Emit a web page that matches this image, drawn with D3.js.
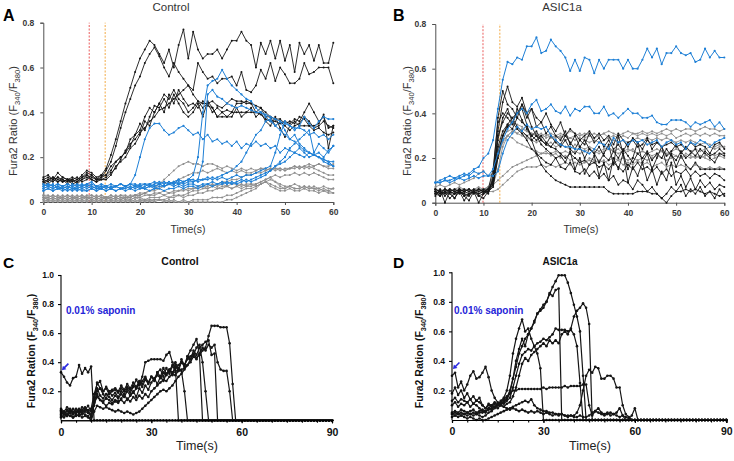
<!DOCTYPE html>
<html><head><meta charset="utf-8">
<script src="https://cdn.jsdelivr.net/npm/d3@7"></script>
<style>body{margin:0;background:#fff}svg{display:block}text{font-family:"Liberation Sans",Arial,sans-serif}</style>
</head><body><svg id="c" width="734" height="461"></svg>
<script>
// ---------- shared axes/ticks ----------
const timeAB = d3.range(0, 61);   // seconds, panels A and B
const timeCD = d3.range(0, 91);   // seconds, panels C and D
const xTicksAB = [0, 10, 20, 30, 40, 50, 60];
const yTicksAB = [0, 0.2, 0.4, 0.6, 0.8];
const xTicksCD = [0, 30, 60, 90];
const xMinorCD = [0,5,10,15,20,25,30,35,40,45,50,55,60,65,70,75,80,85,90];
const yTicksCD = [0.2, 0.4, 0.6, 0.8, 1.0];
const stimA = [9.5, 12.8];  // red / orange dashed markers (s)
const stimB = [9.9, 13.4];

// ---------- Panel A (Control) ----------
const aBlack1 = [0.11,0.12,0.10,0.13,0.11,0.10,0.11,0.10,0.12,0.14,0.13,0.11,0.12,
0.15,0.21,0.28,0.36,0.44,0.51,0.58,0.64,0.68,0.72,
0.70,0.66,0.62,0.68,0.60,0.70,0.77,0.64,0.76,0.68,
0.64,0.66,0.66,0.68,0.64,0.68,0.72,0.72,0.76,0.72,
0.70,0.60,0.71,0.66,0.72,0.64,0.72,0.63,0.70,0.58,
0.71,0.66,0.70,0.63,0.70,0.62,0.62,0.71];
const aBlack2 = [0.09,0.10,0.11,0.09,0.10,0.08,0.10,0.09,0.11,0.12,0.10,0.09,0.11,
0.14,0.18,0.25,0.33,0.40,0.46,0.52,0.56,0.62,0.66,
0.69,0.65,0.60,0.56,0.62,0.58,0.55,0.52,0.50,0.62,
0.58,0.55,0.56,0.53,0.55,0.55,0.56,0.52,0.58,0.50,
0.49,0.52,0.59,0.55,0.62,0.54,0.60,0.57,0.53,0.53,
0.55,0.62,0.57,0.58,0.60,0.60,0.60,0.53];
const aBlack3 = [0.10,0.09,0.11,0.10,0.09,0.10,0.08,0.09,0.10,0.12,0.11,0.10,0.12,
0.12,0.16,0.18,0.20,0.22,0.28,0.30,0.32,0.38,0.42,
0.40,0.44,0.48,0.46,0.50,0.46,0.44,0.40,0.42,0.45,
0.42,0.44,0.40,0.42,0.40,0.41,0.40,0.40,0.40,0.40,
0.40,0.40,0.39,0.37,0.36,0.36,0.35,0.36,0.35,0.37,
0.36,0.40,0.44,0.40,0.36,0.38,0.33,0.34];
const aBlack4 = [0.08,0.10,0.09,0.11,0.10,0.09,0.10,0.11,0.09,0.10,0.12,0.10,0.11,
0.12,0.14,0.18,0.20,0.22,0.25,0.30,0.35,0.32,0.38,
0.43,0.42,0.46,0.42,0.48,0.44,0.40,0.38,0.40,0.44,
0.38,0.45,0.42,0.38,0.40,0.38,0.38,0.42,0.38,0.40,
0.42,0.38,0.40,0.36,0.34,0.38,0.33,0.29,0.34,0.36,
0.34,0.34,0.34,0.34,0.35,0.39,0.24,0.34];
const aBlack5 = [0.10,0.11,0.10,0.09,0.11,0.10,0.09,0.10,0.11,0.13,0.12,0.10,0.10,
0.10,0.12,0.16,0.18,0.20,0.24,0.26,0.30,0.36,0.34,
0.40,0.44,0.40,0.48,0.44,0.50,0.46,0.43,0.44,0.42,
0.45,0.43,0.42,0.38,0.38,0.38,0.40,0.44,0.44,0.45,
0.44,0.40,0.42,0.38,0.38,0.34,0.36,0.34,0.32,0.34,
0.35,0.38,0.36,0.33,0.34,0.36,0.34,0.33];
const aBlack6 = [0.09,0.08,0.10,0.11,0.09,0.10,0.10,0.08,0.10,0.11,0.10,0.09,0.10,
0.11,0.13,0.15,0.19,0.23,0.26,0.28,0.31,0.33,0.36,
0.38,0.41,0.42,0.44,0.46,0.48,0.50,0.52,0.48,0.45,
0.44,0.44,0.45,0.43,0.42,0.44,0.46,0.45,0.45,0.44,
0.44,0.43,0.42,0.40,0.38,0.37,0.37,0.35,0.36,0.35,
0.38,0.37,0.34,0.32,0.33,0.31,0.30,0.31];

const aBlue1 = [0.08,0.07,0.08,0.06,0.07,0.08,0.07,0.06,0.07,0.08,0.07,0.06,0.07,
0.07,0.06,0.07,0.08,0.07,0.08,0.12,0.20,0.28,0.33,
0.35,0.35,0.32,0.30,0.31,0.33,0.34,0.32,0.30,0.31,
0.28,0.30,0.27,0.28,0.26,0.27,0.25,0.27,0.24,0.26,
0.25,0.27,0.25,0.26,0.24,0.25,0.22,0.24,0.23,0.22,
0.24,0.22,0.20,0.21,0.22,0.20,0.23,0.25];
const aBlue2 = [0.07,0.08,0.07,0.08,0.07,0.06,0.08,0.07,0.08,0.07,0.08,0.07,0.07,
0.06,0.07,0.07,0.08,0.07,0.08,0.07,0.08,0.08,0.07,
0.08,0.09,0.08,0.09,0.08,0.10,0.09,0.10,0.12,0.20,
0.40,0.52,0.54,0.55,0.59,0.55,0.52,0.50,0.48,0.46,
0.45,0.42,0.40,0.38,0.36,0.34,0.32,0.30,0.28,0.27,
0.25,0.23,0.22,0.21,0.20,0.19,0.18,0.18];
const aBlue3 = [0.06,0.07,0.06,0.07,0.06,0.07,0.06,0.06,0.07,0.06,0.07,0.06,0.06,
0.07,0.06,0.07,0.06,0.07,0.06,0.07,0.06,0.07,0.08,
0.07,0.08,0.07,0.08,0.08,0.09,0.08,0.09,0.09,0.10,
0.18,0.48,0.50,0.47,0.46,0.44,0.43,0.42,0.43,0.42,
0.41,0.40,0.40,0.39,0.38,0.37,0.36,0.35,0.34,0.33,
0.33,0.32,0.30,0.31,0.29,0.30,0.28,0.30];
const aBlue4 = [0.05,0.06,0.05,0.06,0.05,0.06,0.05,0.06,0.05,0.05,0.06,0.05,0.06,
0.05,0.06,0.05,0.06,0.06,0.07,0.06,0.07,0.06,0.07,
0.07,0.08,0.07,0.08,0.09,0.08,0.09,0.10,0.09,0.10,
0.10,0.11,0.10,0.11,0.12,0.13,0.14,0.16,0.18,0.22,
0.26,0.30,0.32,0.36,0.37,0.34,0.36,0.32,0.28,0.30,
0.26,0.24,0.22,0.21,0.20,0.18,0.17,0.16];
const aBlue5 = [0.07,0.08,0.07,0.08,0.07,0.08,0.07,0.08,0.07,0.08,0.09,0.07,0.08,
0.07,0.08,0.07,0.08,0.07,0.08,0.08,0.07,0.08,0.08,
0.09,0.08,0.09,0.08,0.09,0.10,0.09,0.10,0.10,0.09,
0.10,0.10,0.11,0.10,0.11,0.10,0.11,0.12,0.11,0.12,
0.12,0.13,0.14,0.15,0.16,0.22,0.30,0.36,0.34,0.32,
0.34,0.38,0.35,0.33,0.36,0.38,0.37,0.37];
const aBlue6 = [0.06,0.07,0.06,0.07,0.06,0.07,0.06,0.07,0.06,0.07,0.06,0.07,0.06,
0.07,0.06,0.07,0.06,0.07,0.06,0.07,0.07,0.06,0.07,
0.06,0.07,0.07,0.08,0.07,0.08,0.07,0.08,0.08,0.07,
0.08,0.08,0.09,0.08,0.09,0.08,0.09,0.08,0.09,0.10,
0.09,0.10,0.11,0.12,0.14,0.16,0.18,0.20,0.24,0.26,
0.28,0.30,0.32,0.22,0.26,0.24,0.22,0.25];
const aBlue7 = [0.05,0.06,0.05,0.06,0.06,0.05,0.06,0.05,0.06,0.05,0.06,0.05,0.06,
0.05,0.06,0.05,0.06,0.05,0.06,0.05,0.06,0.06,0.05,
0.06,0.06,0.05,0.06,0.06,0.07,0.06,0.07,0.07,0.06,
0.07,0.08,0.07,0.08,0.08,0.09,0.08,0.09,0.10,0.09,
0.10,0.11,0.12,0.13,0.14,0.16,0.17,0.18,0.20,0.22,
0.21,0.20,0.22,0.21,0.20,0.19,0.18,0.16];

const aGray1 = [0.03,0.02,0.03,0.02,0.03,0.02,0.03,0.02,0.03,0.02,0.03,0.02,0.03,
0.02,0.03,0.02,0.03,0.02,0.03,0.03,0.04,0.04,0.05,
0.06,0.08,0.10,0.12,0.14,0.16,0.17,0.18,0.17,0.17,
0.16,0.17,0.17,0.16,0.15,0.16,0.15,0.14,0.15,0.14,
0.15,0.14,0.15,0.15,0.14,0.15,0.15,0.14,0.15,0.15,
0.16,0.15,0.16,0.15,0.14,0.13,0.12,0.12];
const aGray2 = [0.02,0.01,0.02,0.01,0.02,0.01,0.02,0.01,0.02,0.02,0.01,0.02,0.01,
0.02,0.01,0.02,0.01,0.02,0.02,0.03,0.03,0.04,0.05,
0.05,0.06,0.07,0.08,0.09,0.10,0.11,0.12,0.13,0.13,
0.14,0.13,0.14,0.15,0.14,0.13,0.14,0.13,0.14,0.13,
0.13,0.14,0.15,0.14,0.15,0.14,0.15,0.14,0.15,0.16,
0.15,0.16,0.15,0.16,0.17,0.16,0.15,0.15];
const aGray3 = [0.03,0.03,0.02,0.03,0.02,0.03,0.02,0.03,0.02,0.03,0.03,0.02,0.03,
0.02,0.03,0.02,0.03,0.03,0.02,0.03,0.03,0.04,0.03,
0.04,0.04,0.05,0.04,0.05,0.05,0.06,0.05,0.06,0.06,
0.07,0.06,0.07,0.06,0.07,0.07,0.06,0.07,0.08,0.07,
0.08,0.08,0.09,0.10,0.11,0.12,0.11,0.12,0.12,0.13,
0.12,0.13,0.12,0.13,0.12,0.11,0.10,0.10];
const aGray4 = [0.01,0.00,0.01,0.00,0.01,0.00,0.01,0.00,0.01,0.00,0.01,0.00,0.01,
0.00,0.01,0.00,0.01,0.00,0.01,0.00,0.01,0.00,0.01,
0.00,0.01,0.00,0.01,0.00,0.00,0.00,0.00,0.00,0.00,
0.00,0.00,0.00,0.00,0.00,0.01,0.01,0.02,0.03,0.04,
0.05,0.06,0.08,0.09,0.10,0.09,0.08,0.07,0.07,0.06,
0.06,0.07,0.06,0.06,0.05,0.06,0.05,0.06];
const aGray5 = [0.02,0.02,0.03,0.02,0.02,0.03,0.02,0.02,0.03,0.02,0.02,0.03,0.02,
0.02,0.02,0.03,0.02,0.02,0.02,0.03,0.02,0.03,0.03,
0.03,0.04,0.03,0.04,0.04,0.05,0.05,0.06,0.06,0.07,
0.07,0.07,0.08,0.07,0.08,0.07,0.08,0.08,0.07,0.08,
0.08,0.07,0.08,0.09,0.08,0.07,0.06,0.06,0.07,0.06,
0.06,0.07,0.06,0.07,0.06,0.07,0.06,0.06];
const aGray6 = [0.01,0.02,0.01,0.02,0.01,0.02,0.01,0.02,0.01,0.02,0.01,0.02,0.01,
0.02,0.01,0.02,0.01,0.02,0.01,0.02,0.02,0.01,0.02,
0.02,0.02,0.03,0.02,0.03,0.03,0.02,0.03,0.03,0.04,
0.04,0.05,0.05,0.06,0.06,0.07,0.06,0.07,0.06,0.07,
0.07,0.08,0.09,0.10,0.11,0.09,0.07,0.06,0.07,0.08,
0.07,0.06,0.07,0.06,0.06,0.05,0.05,0.04];
const aGray7 = [0.00,0.01,0.00,0.01,0.00,0.01,0.00,0.01,0.00,0.01,0.00,0.01,0.00,
0.01,0.00,0.01,0.00,0.01,0.00,0.01,0.00,0.01,0.00,
0.01,0.01,0.01,0.02,0.02,0.03,0.03,0.04,0.05,0.05,
0.06,0.06,0.07,0.08,0.09,0.09,0.10,0.10,0.11,0.12,
0.12,0.13,0.13,0.14,0.15,0.15,0.14,0.15,0.15,0.16,
0.15,0.16,0.17,0.16,0.17,0.16,0.16,0.17];
const aGray8 = [0.02,0.01,0.02,0.01,0.02,0.01,0.02,0.01,0.02,0.01,0.02,0.01,0.02,
0.01,0.02,0.01,0.02,0.01,0.01,0.02,0.01,0.01,0.01,
0.01,0.01,0.01,0.00,0.01,0.00,0.01,0.00,0.01,0.01,
0.01,0.01,0.02,0.02,0.02,0.03,0.03,0.04,0.05,0.06,
0.06,0.07,0.08,0.09,0.07,0.06,0.05,0.05,0.06,0.05,
0.05,0.06,0.05,0.05,0.04,0.05,0.04,0.04];

// ---------- Panel B (ASIC1a) ----------
const bBlue1 = [0.09,0.09,0.10,0.10,0.11,0.11,0.12,0.13,0.15,0.16,0.20,0.22,0.28,
0.42,0.55,0.63,0.62,0.65,0.64,0.70,0.70,0.74,0.67,
0.68,0.73,0.70,0.68,0.65,0.59,0.64,0.59,0.65,0.64,
0.58,0.64,0.60,0.64,0.64,0.64,0.60,0.64,0.60,0.60,
0.64,0.69,0.65,0.69,0.62,0.67,0.67,0.70,0.67,0.66,
0.67,0.63,0.64,0.69,0.65,0.68,0.65,0.65];
const bBlue2 = [0.09,0.09,0.10,0.09,0.10,0.11,0.10,0.11,0.12,0.11,0.12,0.12,0.15,
0.22,0.28,0.33,0.36,0.40,0.42,0.40,0.44,0.46,0.41,
0.42,0.44,0.41,0.40,0.43,0.39,0.42,0.41,0.43,0.43,
0.40,0.40,0.43,0.39,0.40,0.38,0.40,0.42,0.40,0.40,
0.38,0.38,0.39,0.36,0.35,0.35,0.37,0.37,0.37,0.36,
0.34,0.36,0.35,0.36,0.37,0.34,0.36,0.33];
const bBlue3 = [0.09,0.10,0.11,0.12,0.11,0.12,0.13,0.12,0.14,0.13,0.14,0.12,0.12,
0.14,0.22,0.28,0.31,0.34,0.32,0.35,0.33,0.34,0.33,
0.34,0.30,0.28,0.26,0.25,0.25,0.24,0.24,0.23,0.22,
0.24,0.27,0.26,0.24,0.29,0.27,0.28,0.26,0.28,0.27,
0.28,0.26,0.27,0.28,0.25,0.27,0.28,0.26,0.27,0.24,
0.27,0.26,0.28,0.27,0.25,0.27,0.28,0.29];

const bBlack1 = [0.05,0.04,0.06,0.05,0.04,0.06,0.05,0.04,0.05,0.06,0.05,0.06,0.10,
0.32,0.45,0.52,0.45,0.43,0.47,0.40,0.42,0.38,0.36,
0.40,0.35,0.32,0.36,0.30,0.33,0.31,0.28,0.30,0.32,
0.29,0.31,0.28,0.30,0.26,0.31,0.28,0.25,0.29,0.27,
0.24,0.28,0.26,0.27,0.25,0.26,0.27,0.25,0.26,0.24,
0.27,0.25,0.26,0.25,0.22,0.26,0.27,0.24];
const bBlack2 = [0.04,0.05,0.03,0.05,0.04,0.05,0.04,0.03,0.05,0.04,0.05,0.04,0.12,
0.38,0.50,0.44,0.42,0.38,0.44,0.40,0.34,0.30,0.28,
0.26,0.25,0.24,0.22,0.20,0.22,0.20,0.18,0.19,0.17,
0.18,0.16,0.17,0.15,0.18,0.16,0.14,0.17,0.15,0.18,
0.15,0.16,0.14,0.16,0.13,0.15,0.12,0.14,0.13,0.15,
0.12,0.14,0.12,0.13,0.11,0.13,0.12,0.10];
const bBlack3 = [0.03,0.06,0.00,0.05,0.02,0.06,0.03,0.01,0.05,0.00,0.04,0.06,0.09,
0.30,0.36,0.40,0.38,0.34,0.32,0.30,0.28,0.30,0.26,
0.24,0.22,0.20,0.21,0.18,0.23,0.15,0.20,0.13,0.17,
0.21,0.12,0.18,0.10,0.20,0.15,0.22,0.09,0.16,0.12,
0.18,0.10,0.15,0.08,0.14,0.10,0.18,0.08,0.12,0.07,
0.11,0.06,0.10,0.07,0.09,0.06,0.08,0.07];
const bBlack4 = [0.05,0.04,0.05,0.06,0.05,0.04,0.05,0.06,0.05,0.04,0.05,0.05,0.07,
0.20,0.30,0.35,0.38,0.40,0.42,0.35,0.28,0.22,0.17,
0.14,0.12,0.10,0.09,0.08,0.07,0.07,0.07,0.07,0.07,
0.07,0.07,0.07,0.05,0.04,0.04,0.04,0.04,0.04,0.05,
0.05,0.05,0.04,0.04,0.02,0.00,0.03,0.05,0.05,0.06,
0.05,0.06,0.05,0.04,0.05,0.04,0.03,0.04];
const bBlack5 = [0.06,0.05,0.06,0.05,0.06,0.05,0.06,0.05,0.06,0.05,0.06,0.06,0.08,
0.25,0.32,0.35,0.33,0.38,0.36,0.34,0.30,0.32,0.28,
0.26,0.30,0.27,0.25,0.28,0.24,0.22,0.25,0.20,0.24,
0.22,0.25,0.21,0.19,0.23,0.20,0.24,0.21,0.18,0.22,
0.20,0.23,0.19,0.22,0.20,0.24,0.21,0.19,0.23,0.20,
0.22,0.24,0.20,0.23,0.21,0.22,0.24,0.22];
const bBlack6 = [0.04,0.03,0.05,0.04,0.02,0.05,0.03,0.04,0.05,0.03,0.04,0.05,0.10,
0.28,0.38,0.42,0.36,0.40,0.44,0.38,0.42,0.34,0.36,
0.31,0.34,0.30,0.28,0.32,0.26,0.30,0.25,0.28,0.24,
0.22,0.18,0.22,0.26,0.17,0.30,0.22,0.15,0.20,0.27,
0.18,0.22,0.15,0.20,0.25,0.17,0.22,0.16,0.21,0.17,
0.15,0.18,0.15,0.15,0.15,0.15,0.15,0.15];
const bBlack7 = [0.05,0.03,0.05,0.02,0.04,0.05,0.01,0.04,0.05,0.03,0.02,0.05,0.08,
0.22,0.30,0.34,0.36,0.33,0.31,0.28,0.24,0.22,0.20,
0.18,0.17,0.20,0.16,0.15,0.18,0.14,0.13,0.15,0.12,
0.14,0.11,0.13,0.10,0.12,0.08,0.10,0.09,0.06,0.10,
0.08,0.05,0.07,0.04,0.02,0.04,0.07,0.05,0.08,0.03,
0.06,0.04,0.07,0.03,0.05,0.02,0.06,0.03];
const bBlack8 = [0.06,0.05,0.04,0.06,0.05,0.06,0.05,0.06,0.04,0.06,0.05,0.06,0.15,
0.36,0.40,0.38,0.35,0.42,0.37,0.33,0.30,0.28,0.30,
0.27,0.25,0.28,0.26,0.30,0.27,0.24,0.28,0.26,0.31,
0.27,0.29,0.25,0.28,0.24,0.26,0.23,0.27,0.28,0.25,
0.26,0.29,0.24,0.27,0.25,0.21,0.23,0.26,0.22,0.25,
0.23,0.21,0.24,0.22,0.20,0.18,0.22,0.21];

const bGray1 = [0.06,0.05,0.06,0.05,0.06,0.05,0.06,0.05,0.06,0.06,0.05,0.06,0.08,
0.15,0.25,0.30,0.32,0.31,0.33,0.32,0.30,0.31,0.30,
0.31,0.29,0.30,0.31,0.30,0.32,0.31,0.30,0.31,0.30,
0.31,0.30,0.31,0.32,0.31,0.30,0.31,0.32,0.31,0.31,
0.32,0.31,0.32,0.31,0.32,0.33,0.32,0.33,0.32,0.33,
0.33,0.32,0.33,0.34,0.33,0.33,0.32,0.33];
const bGray2 = [0.05,0.06,0.05,0.06,0.05,0.06,0.05,0.06,0.05,0.06,0.06,0.07,0.12,
0.22,0.30,0.34,0.36,0.35,0.34,0.32,0.31,0.30,0.31,
0.29,0.30,0.29,0.30,0.28,0.29,0.30,0.31,0.29,0.30,
0.29,0.30,0.31,0.29,0.30,0.29,0.30,0.29,0.31,0.30,
0.31,0.30,0.31,0.30,0.31,0.30,0.31,0.29,0.30,0.31,
0.30,0.31,0.30,0.31,0.30,0.31,0.30,0.30];
const bGray3 = [0.05,0.05,0.06,0.05,0.06,0.05,0.06,0.06,0.05,0.06,0.06,0.07,0.08,
0.10,0.12,0.14,0.16,0.17,0.18,0.19,0.20,0.21,0.22,
0.22,0.22,0.23,0.22,0.23,0.22,0.23,0.22,0.23,0.24,
0.23,0.22,0.23,0.24,0.23,0.22,0.23,0.24,0.23,0.22,
0.23,0.22,0.23,0.24,0.23,0.22,0.23,0.24,0.23,0.24,
0.23,0.24,0.23,0.24,0.25,0.24,0.25,0.25];
const bGray4 = [0.04,0.05,0.04,0.05,0.04,0.05,0.04,0.05,0.04,0.05,0.05,0.05,0.05,
0.06,0.08,0.10,0.12,0.14,0.15,0.16,0.16,0.16,0.17,
0.16,0.17,0.16,0.17,0.18,0.17,0.18,0.17,0.18,0.19,
0.18,0.19,0.18,0.19,0.20,0.19,0.20,0.19,0.20,0.19,
0.20,0.19,0.20,0.21,0.20,0.19,0.20,0.21,0.20,0.21,
0.20,0.21,0.20,0.21,0.22,0.21,0.22,0.22];
const bGray5 = [0.06,0.05,0.06,0.05,0.06,0.07,0.06,0.05,0.06,0.07,0.06,0.07,0.10,
0.24,0.30,0.32,0.33,0.31,0.30,0.29,0.28,0.27,0.28,
0.26,0.27,0.25,0.26,0.25,0.24,0.26,0.25,0.24,0.25,
0.24,0.23,0.24,0.25,0.23,0.24,0.22,0.23,0.24,0.22,
0.23,0.22,0.21,0.22,0.23,0.21,0.22,0.21,0.20,0.22,
0.21,0.20,0.21,0.20,0.19,0.20,0.21,0.20];
const bGray6 = [0.05,0.06,0.05,0.06,0.05,0.06,0.05,0.06,0.05,0.06,0.05,0.06,0.09,
0.20,0.28,0.30,0.29,0.27,0.26,0.25,0.24,0.23,0.22,
0.23,0.21,0.22,0.20,0.21,0.19,0.20,0.19,0.18,0.20,
0.19,0.18,0.19,0.17,0.18,0.19,0.17,0.18,0.17,0.19,
0.17,0.18,0.16,0.17,0.18,0.16,0.17,0.16,0.17,0.16,
0.15,0.17,0.16,0.15,0.16,0.15,0.16,0.15];
const bGray7 = [0.07,0.08,0.07,0.08,0.09,0.08,0.09,0.10,0.11,0.13,0.14,0.12,0.13,
0.20,0.27,0.30,0.32,0.33,0.31,0.30,0.31,0.30,0.29,
0.30,0.31,0.30,0.29,0.30,0.29,0.28,0.29,0.28,0.27,
0.28,0.27,0.28,0.29,0.28,0.27,0.28,0.27,0.28,0.29,
0.28,0.29,0.28,0.29,0.28,0.29,0.28,0.27,0.28,0.27,
0.28,0.27,0.26,0.27,0.26,0.25,0.26,0.25];

// ---------- Panel C (Control, saponin) ----------
const cTrace1 = [0.33,0.30,0.26,0.24,0.29,0.30,0.38,0.32,0.36,0.33,
0.37,0,0,0,0,0,0,0,0,0,
0,0,0,0,0,0,0,0,0,0, 0,0,0,0,0,0,0,0,0,0, 0,0,0,0,0,0,0,0,0,0,
0,0,0,0,0,0,0,0,0,0, 0,0,0,0,0,0,0,0,0,0, 0,0,0,0,0,0,0,0,0,0,
0,0,0,0,0,0,0,0,0,0, 0];
const cTrace2 = [0.05,0.06,0.04,0.07,0.05,0.06,0.08,0.05,0.07,0.06,
0.08,0.18,0.25,0.27,0.20,0.22,0.18,0.20,0.21,0.19,
0.22,0.20,0.23,0.21,0.24,0.22,0.25,0.30,0.40,0.41,
0.42,0.42,0.42,0.42,0.41,0.45,0.47,0.40,0.36,0,
0,0,0,0,0,0,0,0,0,0, 0,0,0,0,0,0,0,0,0,0, 0,0,0,0,0,0,0,0,0,0,
0,0,0,0,0,0,0,0,0,0, 0,0,0,0,0,0,0,0,0,0, 0];
const cTrace3 = [0.08,0.06,0.09,0.07,0.05,0.08,0.06,0.09,0.07,0.10,
0.06,0.12,0.20,0.22,0.18,0.15,0.20,0.17,0.19,0.16,
0.20,0.18,0.22,0.19,0.23,0.28,0.24,0.27,0.30,0.26,
0.30,0.28,0.33,0.30,0.36,0.32,0.34,0.38,0.33,0.36,
0.34,0.20,0,0,0,0,0,0,0,0,
0,0,0,0,0,0,0,0,0,0, 0,0,0,0,0,0,0,0,0,0, 0,0,0,0,0,0,0,0,0,0,
0,0,0,0,0,0,0,0,0,0, 0];
const cTrace4 = [0.04,0.05,0.03,0.06,0.04,0.05,0.07,0.04,0.06,0.05,
0.03,0.15,0.22,0.17,0.15,0.18,0.16,0.14,0.17,0.15,
0.18,0.16,0.20,0.17,0.19,0.22,0.26,0.23,0.28,0.25,
0.30,0.27,0.33,0.35,0.30,0.36,0.32,0.37,0.40,0.35,
0.42,0.38,0.44,0.48,0.52,0.56,0.45,0,0,0,
0,0,0,0,0,0,0,0,0,0, 0,0,0,0,0,0,0,0,0,0, 0,0,0,0,0,0,0,0,0,0,
0,0,0,0,0,0,0,0,0,0, 0];
const cTrace5 = [0.06,0.04,0.07,0.05,0.08,0.06,0.05,0.07,0.09,0.06,
0.04,0.10,0.18,0.14,0.12,0.10,0.12,0.11,0.13,0.12,
0.15,0.18,0.14,0.17,0.20,0.16,0.22,0.19,0.24,0.21,
0.26,0.29,0.25,0.30,0.27,0.32,0.35,0.31,0.38,0.34,
0.40,0.37,0.44,0.42,0.48,0.45,0.50,0.52,0.54,0.55,
0.45,0.46,0,0,0,0,0,0,0,0,
0,0,0,0,0,0,0,0,0,0, 0,0,0,0,0,0,0,0,0,0, 0,0,0,0,0,0,0,0,0,0, 0];
const cTrace6 = [0.02,0.04,0.03,0.05,0.02,0.04,0.03,0.05,0.04,0.03,
0,0.12,0.16,0.14,0.13,0.15,0.14,0.12,0.14,0.13,
0.14,0.12,0.15,0.13,0.16,0.14,0.17,0.15,0.18,0.16,
0.20,0.22,0.24,0.26,0.28,0.27,0.30,0.32,0.31,0.34,
0.35,0.36,0.38,0.40,0.44,0.42,0.46,0.50,0.48,0.52,
0.50,0.52,0.40,0.35,0.34,0.34,0.20,0,0,0,
0,0,0,0,0,0,0,0,0,0, 0,0,0,0,0,0,0,0,0,0, 0,0,0,0,0,0,0,0,0,0, 0];
const cTrace7 = [0.07,0.05,0.06,0.08,0.06,0.05,0.07,0.06,0.08,0.07,
0.02,0.14,0.26,0.22,0.20,0.23,0.20,0.21,0.22,0.20,
0.24,0.21,0.25,0.22,0.26,0.23,0.27,0.25,0.29,0.26,
0.30,0.28,0.31,0.29,0.33,0.31,0.35,0.33,0.36,0.38,
0.40,0.38,0.42,0.44,0.46,0.43,0.45,0.48,0.50,0.58,
0.65,0.65,0.65,0.64,0.64,0.64,0.53,0.25,0,0,
0,0,0,0,0,0,0,0,0,0, 0,0,0,0,0,0,0,0,0,0, 0,0,0,0,0,0,0,0,0,0, 0];
const cTrace8 = [0.03,0.02,0.04,0.03,0.02,0.03,0.04,0.02,0.03,0.02,
0,0.06,0.10,0.09,0.08,0.09,0.08,0.07,0.06,0.07,
0.06,0.05,0.06,0.05,0.04,0.05,0.06,0.08,0.10,0.12,
0.14,0.16,0.18,0.20,0.21,0.20,0.22,0.24,0.27,0.30,
0.32,0.35,0.38,0.42,0.45,0.50,0.52,0.40,0.20,0,
0,0,0,0,0,0,0,0,0,0, 0,0,0,0,0,0,0,0,0,0, 0,0,0,0,0,0,0,0,0,0,
0,0,0,0,0,0,0,0,0,0, 0];

// ---------- Panel D (ASIC1a, saponin) ----------
const dTrace1 = [0.04,0.05,0.04,0.05,0.04,0.05,0.04,0.05,0.04,0.05,
0.05,0.06,0.07,0.08,0.09,0.10,0.11,0.13,0.15,0.20,
0.28,0.36,0.45,0.50,0.55,0.58,0.62,0.67,0.72,0.75,
0.78,0.80,0.85,0.90,0.94,0.98,0.98,0.98,0.93,0.86,
0.78,0.70,0.60,0.30,0,0,0,0,0,0,
0,0,0,0,0,0,0,0,0,0, 0,0,0,0,0,0,0,0,0,0, 0,0,0,0,0,0,0,0,0,0,
0,0,0,0,0,0,0,0,0,0, 0];
const dTrace2 = [0.10,0.12,0.09,0.11,0.10,0.12,0.09,0.11,0.10,0.08,
0.06,0.05,0.08,0.10,0.09,0.11,0.10,0.12,0.14,0.18,
0.28,0.40,0.48,0.55,0.50,0.58,0.62,0.66,0.72,0.74,
0.76,0.80,0.86,0.84,0.88,0.89,0,0,0,0,
0,0,0,0,0,0,0,0,0,0, 0,0,0,0,0,0,0,0,0,0, 0,0,0,0,0,0,0,0,0,0,
0,0,0,0,0,0,0,0,0,0, 0,0,0,0,0,0,0,0,0,0, 0];
const dTrace3 = [0.13,0.15,0.12,0.14,0.13,0.12,0.14,0.11,0.13,0.12,
0.10,0.08,0.10,0.09,0.11,0.10,0.12,0.11,0.13,0.15,
0.22,0.30,0.38,0.44,0.46,0.48,0.47,0.50,0.52,0.53,
0.55,0.54,0.56,0.58,0.62,0.61,0.61,0.61,0.60,0.61,
0.58,0.50,0.25,0,0,0,0,0,0,0,
0,0,0,0,0,0,0,0,0,0, 0,0,0,0,0,0,0,0,0,0, 0,0,0,0,0,0,0,0,0,0,
0,0,0,0,0,0,0,0,0,0, 0];
const dTrace4 = [0.05,0.06,0.05,0.07,0.06,0.05,0.06,0.07,0.05,0.06,
0.07,0.06,0.08,0.07,0.09,0.08,0.10,0.09,0.11,0.12,
0.16,0.22,0.30,0.38,0.42,0.40,0.44,0.46,0.48,0.50,
0.52,0.50,0.54,0.52,0.54,0.52,0.58,0.60,0.58,0.62,
0.70,0.74,0.76,0.79,0.76,0.65,0,0,0,0,
0,0,0,0,0,0,0,0,0,0, 0,0,0,0,0,0,0,0,0,0, 0,0,0,0,0,0,0,0,0,0,
0,0,0,0,0,0,0,0,0,0, 0];
const dTrace5 = [0.18,0.22,0.17,0.20,0.15,0.18,0.14,0.16,0.13,0.15,
0.10,0.08,0.11,0.10,0.12,0.10,0.13,0.15,0.20,0.30,
0.45,0.55,0.62,0.68,0.60,0.62,0.55,0.50,0.45,0.35,
0,0,0,0,0,0,0,0,0,0, 0,0,0,0,0,0,0,0,0,0, 0,0,0,0,0,0,0,0,0,0,
0,0,0,0,0,0,0,0,0,0, 0,0,0,0,0,0,0,0,0,0, 0,0,0,0,0,0,0,0,0,0, 0];
const dTrace6 = [0.30,0.32,0.22,0.26,0.20,0.24,0.30,0.33,0.28,0.29,
0.32,0.36,0.29,0.20,0.15,0.12,0.10,0.09,0.08,0.07,
0.08,0.07,0.06,0.07,0.06,0.05,0.06,0.05,0.06,0.05,
0.04,0.05,0.04,0.03,0.04,0.03,0.04,0.03,0.02,0.03,
0.03,0.05,0.10,0.20,0.30,0.34,0.32,0.36,0.35,0.28,
0.28,0.30,0.30,0.28,0.22,0.22,0.10,0.04,0.02,0,
0,0,0,0,0,0,0,0,0,0, 0,0,0,0,0,0,0,0,0,0, 0,0,0,0,0,0,0,0,0,0, 0];
const dTrace7 = [0.04,0.03,0.04,0.03,0.04,0.03,0.04,0.03,0.04,0.03,
0.02,0.03,0.05,0.06,0.08,0.10,0.12,0.14,0.16,0.18,
0.20,0.20,0.21,0.21,0.21,0.21,0.21,0.21,0.21,0.21,
0.22,0.21,0.22,0.22,0.22,0.22,0.22,0.23,0.22,0.23,
0.23,0.23,0.23,0.24,0.24,0.10,0.03,0.06,0.08,0.05,
0.04,0.05,0.03,0.04,0.05,0.08,0.03,0,0,0,
0,0,0,0,0,0,0,0,0,0, 0,0,0,0,0,0,0,0,0,0, 0,0,0,0,0,0,0,0,0,0, 0];
const dTrace8 = [0.02,0.03,0.02,0.03,0.02,0.01,0.02,0.01,0,0.01,
0,0,0.01,0.02,0.03,0.04,0.05,0.06,0.07,0.08,
0.09,0.10,0.11,0.12,0.13,0.12,0.14,0.10,0.08,0.07,
0.06,0.06,0.05,0.05,0.04,0.04,0.04,0.03,0.03,0.03,
0.02,0.02,0.03,0.02,0.02,0.03,0.05,0.06,0.05,0.04,
0.03,0.04,0.05,0.04,0.03,0.02,0.03,0.02,0.01,0.03,
0.08,0,0,0,0,0,0,0,0,0, 0,0,0,0,0,0,0,0,0,0, 0,0,0,0,0,0,0,0,0,0, 0];

// ---------- drawing ----------
const BLACK = '#151515', BLUE = '#1f80d6', GRAY = '#8d8d8d';
const svg = d3.select('#c');
svg.append('rect').attr('width', 734).attr('height', 461).attr('fill', '#fff');

function drawSeries(g, x, y, time, list, color, r, sw) {
  const line = d3.line().x((d, i) => x(time[i])).y(d => y(d));
  list.forEach(s => {
    g.append('path').datum(s).attr('d', line).attr('fill', 'none')
      .attr('stroke', color).attr('stroke-width', sw).attr('stroke-linejoin', 'round');
    g.append('g').selectAll('circle').data(s).enter().append('circle')
      .attr('cx', (d, i) => x(time[i])).attr('cy', d => y(d)).attr('r', r).attr('fill', color);
  });
}

function ylabel(g, cx, cy, main, size, weight, fill) {
  const t = g.append('text').attr('transform', `translate(${cx},${cy}) rotate(-90)`)
    .attr('text-anchor', 'middle').attr('font-size', size).attr('font-weight', weight).attr('fill', fill);
  t.append('tspan').text(main + ' (F');
  t.append('tspan').attr('dy', size * 0.3).attr('font-size', size * 0.7).text('340');
  t.append('tspan').attr('dy', -size * 0.3).text('/F');
  t.append('tspan').attr('dy', size * 0.3).attr('font-size', size * 0.7).text('380');
  t.append('tspan').attr('dy', -size * 0.3).text(')');
}

function panelAB(o) {
  const g = svg.append('g');
  const x = d3.scaleLinear().domain([0, 60]).range([o.x0, o.x1]);
  const y = d3.scaleLinear().domain([0, 0.8]).range([o.y0, o.y1]);
  const ax = g.append('g').attr('transform', `translate(0,${o.y0})`)
    .call(d3.axisBottom(x).tickValues(xTicksAB).tickSize(3).tickPadding(4).tickFormat(d3.format('d')));
  const ay = g.append('g').attr('transform', `translate(${o.x0},0)`)
    .call(d3.axisLeft(y).tickValues(yTicksAB).tickSize(3).tickPadding(6).tickFormat(d => d === 0 ? '0' : d3.format('.1f')(d)));
  [ax, ay].forEach(a => {
    a.selectAll('path,line').attr('stroke', '#505050');
    a.selectAll('text').attr('font-size', 8.5).attr('font-weight', 'bold').attr('fill', '#3a3a3a');
  });
  g.append('line').attr('x1', x(o.stim[0])).attr('x2', x(o.stim[0])).attr('y1', y(0)).attr('y2', y(0.8))
    .attr('stroke', '#e84a4a').attr('stroke-width', 0.9).attr('stroke-dasharray', '2,1.5');
  g.append('line').attr('x1', x(o.stim[1])).attr('x2', x(o.stim[1])).attr('y1', y(0)).attr('y2', y(0.8))
    .attr('stroke', '#f0a030').attr('stroke-width', 0.9).attr('stroke-dasharray', '2,1.5');
  drawSeries(g, x, y, timeAB, o.gray, GRAY, 1.0, 0.9);
  drawSeries(g, x, y, timeAB, o.black, BLACK, 1.0, 0.9);
  drawSeries(g, x, y, timeAB, o.blue, BLUE, 1.1, 1.0);
  g.append('text').attr('x', o.titleX).attr('y', 10.5).attr('text-anchor', 'middle')
    .attr('font-size', 11.5).attr('fill', '#333').text(o.title);
  g.append('text').attr('x', o.letterX).attr('y', 20.5).attr('font-size', 16).attr('font-weight', 'bold')
    .attr('fill', '#000').text(o.letter);
  g.append('text').attr('x', o.timeX).attr('y', 233).attr('text-anchor', 'middle')
    .attr('font-size', 10.5).attr('fill', '#333').text('Time(s)');
  ylabel(g, o.ylabX, 121, 'Fura2 Ratio', 11, 'normal', '#333');
}

function panelCD(o) {
  const g = svg.append('g');
  const x = d3.scaleLinear().domain([0, 90]).range([o.x0, o.x1]);
  const y = d3.scaleLinear().domain([0, 1]).range([o.y0, o.y1]);
  drawSeries(g, x, y, timeCD, o.traces, BLACK, 1.3, 1.2);
  const axm = g.append('g').attr('transform', `translate(0,${o.y0})`)
    .call(d3.axisBottom(x).tickValues(xMinorCD).tickSize(2.5).tickFormat(''));
  const ax = g.append('g').attr('transform', `translate(0,${o.y0})`)
    .call(d3.axisBottom(x).tickValues(xTicksCD).tickSize(3).tickPadding(5).tickFormat(d3.format('d')));
  const ay = g.append('g').attr('transform', `translate(${o.x0},0)`)
    .call(d3.axisLeft(y).tickValues(yTicksCD).tickSize(3).tickPadding(4).tickFormat(d3.format('.1f')));
  ay.select('.domain').attr('d', `M-0,${y(0)}V${y(1)}`);
  [axm, ax, ay].forEach(a => {
    a.selectAll('path,line').attr('stroke', '#000').attr('stroke-width', 1.1);
  });
  ax.selectAll('text').attr('font-size', 10.5).attr('font-weight', 'bold').attr('fill', '#111');
  ay.selectAll('text').attr('font-size', 8.5).attr('font-weight', 'bold').attr('fill', '#111');
  // saponin arrow
  const tipX = x(0.3), tipY = y(0.345), tailX = x(0.3) + 6.5, tailY = y(0.345) - 6.5;
  g.append('line').attr('x1', tailX).attr('y1', tailY).attr('x2', tipX + 1.5).attr('y2', tipY - 1.5)
    .attr('stroke', '#2a2ae0').attr('stroke-width', 1.6);
  g.append('path').attr('d', `M${tipX},${tipY}L${tipX + 1},${tipY - 4.5}L${tipX + 4.5},${tipY - 1}Z`).attr('fill', '#2a2ae0');
  g.append('text').attr('x', o.sapX).attr('y', 313.5).attr('font-size', 10).attr('font-weight', 'bold')
    .attr('fill', '#2424d8').text('0.01% saponin');
  g.append('text').attr('x', o.titleX).attr('y', 265).attr('text-anchor', 'middle')
    .attr('font-size', o.titleSize).attr('font-weight', 'bold').attr('fill', '#111').text(o.title);
  g.append('text').attr('x', o.letterX).attr('y', 267.5).attr('font-size', 15.5).attr('font-weight', 'bold')
    .attr('fill', '#000').text(o.letter);
  g.append('text').attr('x', o.timeX).attr('y', 450).attr('text-anchor', 'middle')
    .attr('font-size', 12.5).attr('fill', '#222').text('Time(s)');
  ylabel(g, o.ylabX, 351, 'Fura2 Ration', 10.5, 'bold', '#111');
}

panelAB({x0: 43.3, x1: 333.3, y0: 202, y1: 22.7, stim: stimA, title: 'Control', titleX: 171,
  letter: 'A', letterX: 3, timeX: 188, ylabX: 16.5,
  black: [aBlack1, aBlack2, aBlack3, aBlack4, aBlack5, aBlack6],
  blue: [aBlue1, aBlue2, aBlue3, aBlue4, aBlue5, aBlue6, aBlue7],
  gray: [aGray1, aGray2, aGray3, aGray4, aGray5, aGray6, aGray7, aGray8]});
panelAB({x0: 435.3, x1: 724.3, y0: 202.7, y1: 24, stim: stimB, title: 'ASIC1a', titleX: 562,
  letter: 'B', letterX: 393, timeX: 581, ylabX: 411,
  black: [bBlack1, bBlack2, bBlack3, bBlack4, bBlack5, bBlack6, bBlack7, bBlack8],
  blue: [bBlue1, bBlue2, bBlue3],
  gray: [bGray1, bGray2, bGray3, bGray4, bGray5, bGray6, bGray7]});
panelCD({x0: 61, x1: 332, y0: 420.3, y1: 275, title: 'Control', titleX: 180, titleSize: 10.5,
  letter: 'C', letterX: 3, timeX: 197, ylabX: 35, sapX: 66,
  traces: [cTrace1, cTrace2, cTrace3, cTrace4, cTrace5, cTrace6, cTrace7, cTrace8]});
panelCD({x0: 452, x1: 726.3, y0: 420, y1: 272.3, title: 'ASIC1a', titleX: 560, titleSize: 10,
  letter: 'D', letterX: 393, timeX: 590, ylabX: 423, sapX: 454,
  traces: [dTrace1, dTrace2, dTrace3, dTrace4, dTrace5, dTrace6, dTrace7, dTrace8]});
</script>
</body></html>
